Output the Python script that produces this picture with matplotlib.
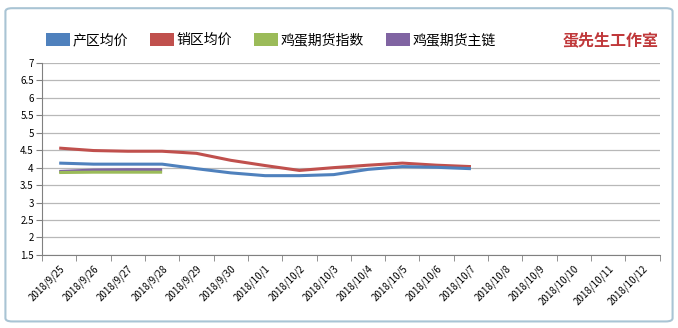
import numpy as np
import matplotlib.pyplot as plt
from matplotlib.patches import FancyBboxPatch, Patch

plt.rcParams['font.family'] = ['Noto Sans CJK SC', 'DejaVu Sans']

dates = ["2018/9/25", "2018/9/26", "2018/9/27", "2018/9/28", "2018/9/29",
         "2018/9/30", "2018/10/1", "2018/10/2", "2018/10/3", "2018/10/4",
         "2018/10/5", "2018/10/6", "2018/10/7", "2018/10/8", "2018/10/9",
         "2018/10/10", "2018/10/11", "2018/10/12"]

# 产区均价 / 销区均价 (9/25 - 10/7)
origin_price = [4.13, 4.10, 4.10, 4.10, 3.97, 3.85, 3.77, 3.77, 3.80, 3.95, 4.03, 4.01, 3.97]
market_price = [4.56, 4.49, 4.47, 4.47, 4.41, 4.21, 4.06, 3.92, 4.00, 4.07, 4.13, 4.07, 4.03]
# 期货 (9/25 - 9/28)
futures_index = [3.86, 3.87, 3.87, 3.87]
futures_main = [3.89, 3.93, 3.94, 3.94]

series = [("产区均价", origin_price, "#4F81BD"),
          ("销区均价", market_price, "#C0504D"),
          ("鸡蛋期货指数", futures_index, "#9BBB59"),
          ("鸡蛋期货主链", futures_main, "#8064A2")]

fig = plt.figure(figsize=(6.78, 3.28), dpi=100)
ax = fig.add_axes([0.062, 0.223, 0.911, 0.585])

x = np.arange(len(dates))
# draw futures first so the price lines sit on top
for name, vals, col in series[::-1]:
    ax.plot(x[:len(vals)], vals, color=col, lw=2.2, solid_capstyle="butt")

ax.set_xlim(-0.5, len(dates) - 0.5)
ax.set_ylim(1.5, 7)
ax.set_yticks(np.arange(1.5, 7.01, 0.5))
ax.set_yticklabels([f"{v:g}" for v in np.arange(1.5, 7.01, 0.5)], fontsize=7)
ax.set_xticks(x)
ax.set_xticklabels(dates, rotation=45, ha="right", rotation_mode="anchor", fontsize=7)
ax.set_xticks(np.arange(-0.5, len(dates)), minor=True)
ax.tick_params(axis="x", which="major", length=0, pad=6)
ax.tick_params(axis="x", which="minor", length=4, color="#808080")
ax.tick_params(axis="y", length=4, color="#808080", pad=2)
ax.grid(axis="y", color="#b8b8b8", lw=0.9)
ax.set_axisbelow(True)
for s in ["top", "right"]:
    ax.spines[s].set_visible(False)
for s in ["left", "bottom"]:
    ax.spines[s].set_color("#808080")

handles = [Patch(facecolor=c, edgecolor="none") for _, _, c in series]
fig.legend(handles, [n for n, _, _ in series], loc="center left",
           bbox_to_anchor=(0.049, 0.878), ncol=4, frameon=False, fontsize=10,
           handlelength=1.75, handleheight=1.1, columnspacing=1.6, handletextpad=0.15)

fig.text(0.972, 0.878, "蛋先生工作室", color="#C0393B", fontsize=11.5,
         fontweight="bold", ha="right", va="center")

frame = FancyBboxPatch((0.008, 0.02), 0.984, 0.955, boxstyle="round,pad=0,rounding_size=0.01",
                       transform=fig.transFigure, fill=False, edgecolor="#A9C4D4", lw=1.5)
fig.patches.append(frame)

fig.savefig("out.png", dpi=100)
